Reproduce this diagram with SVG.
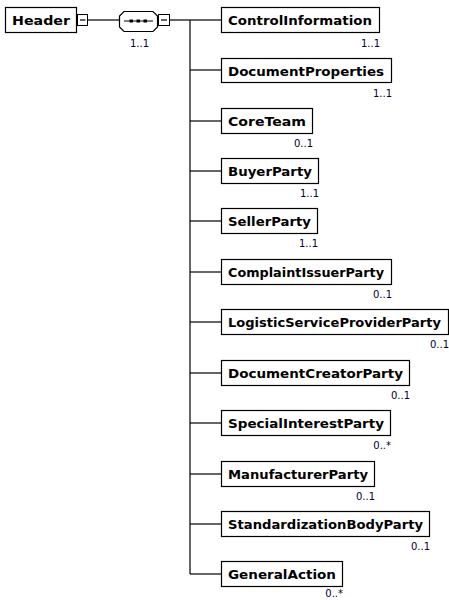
<svg xmlns="http://www.w3.org/2000/svg" width="449" height="600" viewBox="0 0 449 600">
<style>
rect.box{fill:#fff;stroke:#000;stroke-width:1.2}
rect.pm{fill:#fff;stroke:#000;stroke-width:1}
.lbl{font-family:"DejaVu Sans","Liberation Sans",sans-serif;font-weight:bold;font-size:13px;fill:#000}
.mul{font-family:"DejaVu Sans","Liberation Sans",sans-serif;font-size:10px;fill:#000033;text-anchor:end}
.ln{stroke:#000;stroke-width:1.2;fill:none}
</style>
<rect width="449" height="600" fill="#fff"/>
<g id="connectors">
<line class="ln" x1="88" y1="20" x2="119" y2="20"/>
<line class="ln" x1="170" y1="20" x2="190" y2="20"/>
<line class="ln" x1="190" y1="20" x2="190" y2="574"/>
<line class="ln" x1="190" y1="20" x2="221" y2="20"/>
<line class="ln" x1="190" y1="70" x2="221" y2="70"/>
<line class="ln" x1="190" y1="121" x2="221" y2="121"/>
<line class="ln" x1="190" y1="171" x2="221" y2="171"/>
<line class="ln" x1="190" y1="221" x2="221" y2="221"/>
<line class="ln" x1="190" y1="272" x2="221" y2="272"/>
<line class="ln" x1="190" y1="322" x2="221" y2="322"/>
<line class="ln" x1="190" y1="373" x2="221" y2="373"/>
<line class="ln" x1="190" y1="423" x2="221" y2="423"/>
<line class="ln" x1="190" y1="474" x2="221" y2="474"/>
<line class="ln" x1="190" y1="524" x2="221" y2="524"/>
<line class="ln" x1="190" y1="574" x2="221" y2="574"/>
</g>
<g id="Header">
<rect class="box" x="5.5" y="7.5" width="71" height="25"/>
<text class="lbl" x="12" y="25" textLength="58" lengthAdjust="spacingAndGlyphs">Header</text>
<rect class="pm" x="77.5" y="14.5" width="10" height="11"/>
<line x1="80" y1="20" x2="85.5" y2="20" stroke="#000" stroke-width="1.2"/>
</g>
<g id="sequence">
<polygon points="124,11.5 153,11.5 157.5,16 157.5,27 153,31.5 124,31.5 119.5,27 119.5,16" fill="#fff" stroke="#000" stroke-width="1.2"/>
<line x1="124" y1="21" x2="153" y2="21" stroke="#000" stroke-width="1"/>
<rect x="129.5" y="19.5" width="3.5" height="3" fill="#000"/>
<rect x="136.5" y="19.5" width="3.5" height="3" fill="#000"/>
<rect x="143.5" y="19.5" width="3.5" height="3" fill="#000"/>
<rect class="pm" x="158.5" y="14.5" width="11" height="11"/>
<line x1="161" y1="20" x2="167" y2="20" stroke="#000" stroke-width="1.2"/>
<text class="mul" x="149" y="47">1..1</text>
</g>
<g id="ControlInformation">
<rect class="box" x="221.5" y="7.5" width="158" height="25"/>
<text class="lbl" x="228" y="25" textLength="144" lengthAdjust="spacingAndGlyphs">ControlInformation</text>
<text class="mul" x="380" y="47">1..1</text>
</g>
<g id="DocumentProperties">
<rect class="box" x="221.5" y="58.5" width="170" height="24"/>
<text class="lbl" x="228" y="75.5" textLength="156" lengthAdjust="spacingAndGlyphs">DocumentProperties</text>
<text class="mul" x="392" y="97">1..1</text>
</g>
<g id="CoreTeam">
<rect class="box" x="221.5" y="108.5" width="91" height="25"/>
<text class="lbl" x="228" y="126" textLength="78" lengthAdjust="spacingAndGlyphs">CoreTeam</text>
<text class="mul" x="313" y="147">0..1</text>
</g>
<g id="BuyerParty">
<rect class="box" x="221.5" y="158.5" width="97" height="25"/>
<text class="lbl" x="228" y="176" textLength="84" lengthAdjust="spacingAndGlyphs">BuyerParty</text>
<text class="mul" x="319" y="197">1..1</text>
</g>
<g id="SellerParty">
<rect class="box" x="221.5" y="208.5" width="96" height="25"/>
<text class="lbl" x="228" y="226" textLength="83" lengthAdjust="spacingAndGlyphs">SellerParty</text>
<text class="mul" x="318" y="247">1..1</text>
</g>
<g id="ComplaintIssuerParty">
<rect class="box" x="221.5" y="259.5" width="170" height="25"/>
<text class="lbl" x="228" y="277" textLength="156" lengthAdjust="spacingAndGlyphs">ComplaintIssuerParty</text>
<text class="mul" x="392" y="298">0..1</text>
</g>
<g id="LogisticServiceProviderParty">
<rect class="box" x="221.5" y="309.5" width="227" height="25"/>
<text class="lbl" x="228" y="327" textLength="213" lengthAdjust="spacingAndGlyphs">LogisticServiceProviderParty</text>
<text class="mul" x="449" y="348">0..1</text>
</g>
<g id="DocumentCreatorParty">
<rect class="box" x="221.5" y="360.5" width="188" height="25"/>
<text class="lbl" x="228" y="378" textLength="175" lengthAdjust="spacingAndGlyphs">DocumentCreatorParty</text>
<text class="mul" x="410" y="399">0..1</text>
</g>
<g id="SpecialInterestParty">
<rect class="box" x="221.5" y="410.5" width="169" height="25"/>
<text class="lbl" x="228" y="428" textLength="156" lengthAdjust="spacingAndGlyphs">SpecialInterestParty</text>
<text class="mul" x="391" y="449">0..*</text>
</g>
<g id="ManufacturerParty">
<rect class="box" x="221.5" y="461.5" width="153" height="25"/>
<text class="lbl" x="228" y="479" textLength="140" lengthAdjust="spacingAndGlyphs">ManufacturerParty</text>
<text class="mul" x="375" y="500">0..1</text>
</g>
<g id="StandardizationBodyParty">
<rect class="box" x="221.5" y="511.5" width="208" height="25"/>
<text class="lbl" x="228" y="529" textLength="195" lengthAdjust="spacingAndGlyphs">StandardizationBodyParty</text>
<text class="mul" x="430" y="550">0..1</text>
</g>
<g id="GeneralAction">
<rect class="box" x="221.5" y="561.5" width="121" height="25"/>
<text class="lbl" x="228" y="579" textLength="108" lengthAdjust="spacingAndGlyphs">GeneralAction</text>
<text class="mul" x="343" y="597">0..*</text>
</g>
</svg>
